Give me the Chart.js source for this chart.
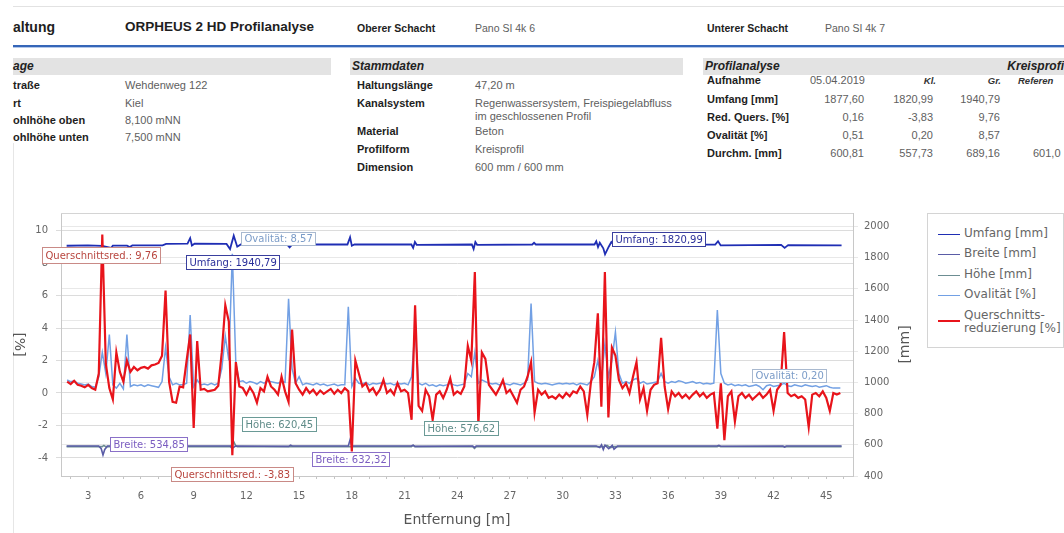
<!DOCTYPE html>
<html><head><meta charset="utf-8">
<script src="https://cdn.jsdelivr.net/npm/chart.js@4.4.1/dist/chart.umd.min.js"></script>
<style>
html,body{margin:0;padding:0;background:#fff;}
body{width:1064px;height:533px;position:relative;overflow:hidden;font-family:"Liberation Sans",Arial,sans-serif;}
.a{position:absolute;white-space:nowrap;line-height:14px;}
.b{font-weight:bold;color:#1e1e1e;font-size:11px;}
.v{color:#5e5e5e;font-size:11px;}
.h{font-weight:bold;font-style:italic;color:#333;font-size:9.5px;}
.bar{position:absolute;top:58px;height:17px;background:#e3e3e3;}
.bt{position:absolute;white-space:nowrap;font-weight:bold;font-style:italic;font-size:12px;color:#222;top:59px;line-height:15px;}
#legend{position:absolute;left:927px;top:213px;width:135px;height:133px;border:1px solid #d4d4d4;background:#fff;font-family:"DejaVu Sans",sans-serif;font-size:12px;color:#666;}
.li{position:absolute;left:10px;width:22px;}
.lt{position:absolute;left:36px;white-space:nowrap;line-height:13px;}
</style></head><body>
<div class="a" style="left:13px;top:6px;width:1051px;height:1px;background:#e2e2e2"></div>
<div class="a b" style="left:13px;top:19px;font-size:14px;line-height:16px">altung</div>
<div class="a b" style="left:125px;top:19px;font-size:13.5px;line-height:16px">ORPHEUS 2 HD Profilanalyse</div>
<div class="a b" style="left:357px;top:21px;font-size:10.5px">Oberer Schacht</div>
<div class="a v" style="left:475px;top:21px;font-size:10.5px">Pano SI 4k 6</div>
<div class="a b" style="left:707px;top:21px;font-size:10.5px">Unterer Schacht</div>
<div class="a v" style="left:825px;top:21px;font-size:10.5px">Pano SI 4k 7</div>
<div class="a" style="left:13px;top:45px;width:1051px;height:2px;background:#3566b8"></div>
<div class="a" style="left:13px;top:47px;width:1051px;height:1px;background:#b4c8ea"></div>

<div class="bar" style="left:13px;width:318px"></div>
<div class="bar" style="left:350px;width:333px"></div>
<div class="bar" style="left:703px;width:361px"></div>
<div class="bt" style="left:13px">age</div>
<div class="bt" style="left:352px">Stammdaten</div>
<div class="bt" style="left:705px">Profilanalyse</div>
<div class="bt" style="right:0px">Kreisprofi</div>

<div class="a b" style="left:13px;top:78px">traße</div>
<div class="a b" style="left:13px;top:96px">rt</div>
<div class="a b" style="left:13px;top:113px">ohlhöhe oben</div>
<div class="a b" style="left:13px;top:130px">ohlhöhe unten</div>
<div class="a v" style="left:125px;top:78px">Wehdenweg 122</div>
<div class="a v" style="left:125px;top:96px">Kiel</div>
<div class="a v" style="left:125px;top:113px">8,100 mNN</div>
<div class="a v" style="left:125px;top:130px">7,500 mNN</div>

<div class="a b" style="left:357px;top:78px">Haltungslänge</div>
<div class="a b" style="left:357px;top:96px">Kanalsystem</div>
<div class="a b" style="left:357px;top:124px">Material</div>
<div class="a b" style="left:357px;top:142px">Profilform</div>
<div class="a b" style="left:357px;top:160px">Dimension</div>
<div class="a v" style="left:475px;top:78px">47,20 m</div>
<div class="a v" style="left:475px;top:96px">Regenwassersystem, Freispiegelabfluss</div>
<div class="a v" style="left:475px;top:109px">im geschlossenen Profil</div>
<div class="a v" style="left:475px;top:124px">Beton</div>
<div class="a v" style="left:475px;top:142px">Kreisprofil</div>
<div class="a v" style="left:475px;top:160px">600 mm / 600 mm</div>

<div class="a b" style="left:707px;top:73px">Aufnahme</div>
<div class="a b" style="left:707px;top:92px">Umfang [mm]</div>
<div class="a b" style="left:707px;top:110px">Red. Quers. [%]</div>
<div class="a b" style="left:707px;top:128px">Ovalität [%]</div>
<div class="a b" style="left:707px;top:146px">Durchm. [mm]</div>
<div class="a v" style="right:199px;top:73px">05.04.2019</div>
<div class="a h" style="right:128px;top:74px">Kl.</div>
<div class="a h" style="right:63px;top:74px">Gr.</div>
<div class="a h" style="left:1018px;top:74px">Referen</div>
<div class="a v" style="right:200px;top:92px">1877,60</div>
<div class="a v" style="right:131px;top:92px">1820,99</div>
<div class="a v" style="right:64px;top:92px">1940,79</div>
<div class="a v" style="right:200px;top:110px">0,16</div>
<div class="a v" style="right:131px;top:110px">-3,83</div>
<div class="a v" style="right:64px;top:110px">9,76</div>
<div class="a v" style="right:200px;top:128px">0,51</div>
<div class="a v" style="right:131px;top:128px">0,20</div>
<div class="a v" style="right:64px;top:128px">8,57</div>
<div class="a v" style="right:200px;top:146px">600,81</div>
<div class="a v" style="right:131px;top:146px">557,73</div>
<div class="a v" style="right:64px;top:146px">689,16</div>
<div class="a v" style="left:1033px;top:146px">601,0</div>

<div class="a" style="left:13px;top:143px;width:1px;height:390px;background:#e6e6e6"></div>
<canvas id="c" width="920" height="338" style="position:absolute;left:0;top:195px"></canvas>
<div id="legend"></div>
<script>
const distances = [
1.8,2.0,2.2,2.4,2.6,2.8,3.0,3.2,3.4,3.6,
3.8,4.0,4.2,4.4,4.6,4.8,5.0,5.2,5.4,5.6,
5.8,6.0,6.2,6.4,6.6,6.8,7.0,7.2,7.4,7.6,
7.8,8.0,8.2,8.4,8.6,8.8,9.0,9.2,9.4,9.6,
9.8,10.0,10.2,10.4,10.6,10.8,11.0,11.2,11.4,11.6,
11.8,12.0,12.2,12.4,12.6,12.8,13.0,13.2,13.4,13.6,
13.8,14.0,14.2,14.4,14.6,14.8,15.0,15.2,15.4,15.6,
15.8,16.0,16.2,16.4,16.6,16.8,17.0,17.2,17.4,17.6,
17.8,18.0,18.2,18.4,18.6,18.8,19.0,19.2,19.4,19.6,
19.8,20.0,20.2,20.4,20.6,20.8,21.0,21.2,21.4,21.6,
21.8,22.0,22.2,22.4,22.6,22.8,23.0,23.2,23.4,23.6,
23.8,24.0,24.2,24.4,24.6,24.8,25.0,25.2,25.4,25.6,
25.8,26.0,26.2,26.4,26.6,26.8,27.0,27.2,27.4,27.6,
27.8,28.0,28.2,28.4,28.6,28.8,29.0,29.2,29.4,29.6,
29.8,30.0,30.2,30.4,30.6,30.8,31.0,31.2,31.4,31.6,
31.8,32.0,32.2,32.4,32.6,32.8,33.0,33.2,33.4,33.6,
33.8,34.0,34.2,34.4,34.6,34.8,35.0,35.2,35.4,35.6,
35.8,36.0,36.2,36.4,36.6,36.8,37.0,37.2,37.4,37.6,
37.8,38.0,38.2,38.4,38.6,38.8,39.0,39.2,39.4,39.6,
39.8,40.0,40.2,40.4,40.6,40.8,41.0,41.2,41.4,41.6,
41.8,42.0,42.2,42.4,42.6,42.8,43.0,43.2,43.4,43.6,
43.8,44.0,44.2,44.4,44.6,44.8,45.0,45.2,45.4,45.6,45.8];

const querschnitt = [
0.7,0.55,0.75,0.5,0.45,0.35,0.5,0.3,0.2,1.2,
9.76,1.8,0.3,-0.4,2.5,1.3,0.7,2.0,1.3,1.6,
1.4,1.55,1.6,1.5,1.7,1.75,1.85,2.3,6.3,0.7,
-0.55,-0.6,0.4,0.35,2.0,3.6,-2.15,3.2,0.2,0.25,
0.1,0.15,0.2,0.45,2.5,5.4,4.4,-3.83,1.9,0.4,
0.3,-0.1,0.35,0.0,-0.6,0.3,0.1,1.0,0.4,0.2,
-0.1,1.0,0.1,-0.55,3.9,0.6,0.2,-0.1,0.3,0.0,
0.2,-0.1,0.15,-0.05,0.1,0.25,-0.05,0.2,0.0,0.3,
0.1,-3.6,2.0,1.2,0.4,0.6,0.1,0.3,-0.1,0.2,
0.8,0.0,0.2,-0.1,0.6,0.1,0.2,0.0,-1.65,5.4,
-0.8,-1.1,0.2,-0.2,-1.65,-0.1,0.1,-0.3,0.2,0.9,
-0.1,0.1,-0.05,0.4,2.9,2.0,7.45,-2.0,2.5,2.1,
0.5,0.2,-0.1,0.3,0.8,0.0,0.2,-0.2,-0.6,0.2,
0.4,1.0,1.9,-1.2,0.2,-0.1,0.1,-0.3,-0.2,-0.35,
-0.1,-0.3,0.0,-0.2,0.1,0.0,0.4,0.1,-1.35,0.6,
1.9,4.9,-0.85,7.45,-1.5,2.8,2.3,0.8,0.3,0.6,
0.0,1.0,1.9,-0.4,0.3,-1.1,0.2,0.5,0.6,3.4,
0.4,-1.0,0.1,-0.2,0.0,-0.3,-0.1,-0.35,-0.1,0.1,
-0.2,0.0,-0.3,-0.1,0.0,-2.2,0.6,-2.9,-0.2,0.1,
-1.75,-0.2,0.0,-0.3,-0.1,-0.4,-0.2,0.0,-0.3,-0.1,
0.2,-1.1,0.2,0.5,3.75,0.0,-0.2,-0.1,-0.3,-0.2,
-0.4,-2.1,-0.1,0.0,-0.2,0.1,-0.3,-1.1,0.0,-0.1,0.0];

const ovalitaet = [
0.8,0.7,0.75,0.6,0.55,0.5,0.55,0.4,0.35,1.0,
2.5,1.2,3.6,0.5,0.3,0.6,0.25,3.6,0.4,0.5,
0.45,0.5,0.4,0.5,0.45,0.4,0.35,0.7,2.8,1.0,
0.5,0.6,0.5,0.5,0.6,4.8,0.4,0.8,0.5,0.55,
0.5,0.6,0.5,0.6,1.5,3.5,2.0,8.57,1.8,0.7,
0.75,0.6,0.7,0.65,0.55,0.7,0.6,0.75,0.7,0.65,
0.6,0.7,0.65,5.8,1.5,0.6,1.0,0.5,0.6,0.55,
0.5,0.6,0.5,0.55,0.45,0.5,0.55,0.45,0.5,0.5,
5.3,0.4,0.9,0.6,0.55,0.65,0.5,0.6,0.55,0.6,
0.65,0.55,0.6,0.5,0.6,0.55,0.6,0.5,1.0,4.0,
0.6,0.5,0.6,0.45,0.5,0.4,0.5,0.45,0.5,0.6,
0.5,0.45,0.5,0.55,1.2,1.0,2.5,0.6,0.8,0.7,
0.6,0.55,0.6,0.5,0.6,0.55,0.5,0.6,0.55,0.5,
0.6,0.8,5.5,0.7,0.6,0.55,0.6,0.55,0.5,0.55,
0.6,0.55,0.6,0.55,0.6,0.5,0.6,0.55,0.5,0.7,
1.0,2.0,0.8,3.0,1.0,2.0,3.75,1.2,0.6,0.7,
0.6,0.8,0.9,0.6,0.7,0.55,0.6,0.65,0.7,1.2,
0.7,0.6,0.7,0.65,0.75,0.7,0.6,0.65,0.7,0.6,
0.65,0.55,0.6,0.55,0.6,5.1,1.2,0.6,0.5,0.55,
0.45,0.5,0.45,0.5,0.4,0.45,0.5,0.4,0.2,0.45,
0.5,0.4,0.45,0.5,0.6,0.45,0.4,0.5,0.45,0.4,
0.5,0.45,0.4,0.45,0.35,0.4,0.45,0.35,0.3,0.3,0.3];

const umfangDist = [1.77,2.98,3.79,4.30,4.40,5.21,5.36,5.51,7.23,7.43,8.65,8.80,8.90,9.05,10.87,11.07,11.28,11.48,11.68,14.31,14.46,14.61,17.75,17.90,18.00,18.15,21.39,21.49,21.59,21.69,24.83,24.93,25.03,25.13,28.27,28.37,28.47,31.81,31.91,32.01,32.11,32.31,32.41,32.62,32.77,32.92,38.68,38.84,38.99,42.43,42.63,42.83,45.87];
const umfang = [1876,1878,1875,1862,1877,1877,1868,1878,1879,1888,1890,1925,1878,1889,1888,1855,1940.79,1870,1884,1885,1865,1884,1884,1930,1876,1884,1884,1862,1900,1882,1884,1855,1900,1882,1884,1895,1884,1884,1905,1868,1895,1860,1820.99,1870,1900,1883,1883,1905,1878,1882,1862,1880,1878];

const breiteDist = [1.77,3.59,3.74,3.84,3.94,4.10,7.43,7.53,7.63,11.07,11.17,11.28,11.38,14.41,14.51,14.61,17.80,17.90,18.00,21.39,21.49,21.59,24.88,24.98,25.08,31.91,32.11,32.21,32.31,32.41,32.62,32.82,32.92,33.12,38.79,38.89,38.99,42.53,42.63,42.73,45.87];
const breite = [592,592,575,534.85,570,592,592,584,592,592,578,584,592,590,598,592,592,632.32,592,592,598,590,592,583,592,592,582,600,570,598,575,596,572,592,592,597,591,592,586,592,592];

const hoeheDist = [1.77,3.79,3.89,3.99,11.07,11.17,11.28,11.38,11.48,21.39,21.49,21.59,24.88,24.98,25.08,32.31,32.52,32.72,32.92,38.79,38.89,38.99,45.87];
const hoehe = [588,588,596,588,588,600,620.45,596,588,588,596,588,588,576.62,588,588,597,582,588,588,593,588,588];

const xTicks = [3,6,9,12,15,18,21,24,27,30,33,36,39,42,45];
const xMinorTicks = [2,3,4,5,6,7,8,9,10,11,12,13,14,15,16,17,18,19,20,21,22,23,24,25,26,27,28,29,30,31,32,33,34,35,36,37,38,39,40,41,42,43,44,45,46];
const pctTicks = [-4,-2,0,2,4,6,8,10];
const mmTicks = [400,600,800,1000,1200,1400,1600,1800,2000];

Chart.defaults.font.family = '"DejaVu Sans", sans-serif';

const toXY = (xs, ys) => xs.map((x, i) => ({x: x, y: ys[i]}));

const series = [
  {key:'umfang', label:['Umfang [mm]'], xs:umfangDist, ys:umfang, axis:'y2', color:'#1f2eb4', width:1.8, order:2, lw:1},
  {key:'breite', label:['Breite [mm]'], xs:breiteDist, ys:breite, axis:'y2', color:'#5a5ca6', width:1.6, order:3, lw:1},
  {key:'hoehe', label:['Höhe [mm]'], xs:hoeheDist, ys:hoehe, axis:'y2', color:'#6c8d92', width:1.6, order:4, lw:1},
  {key:'oval', label:['Ovalität [%]'], xs:distances, ys:ovalitaet, axis:'y', color:'#72a0e4', width:1.5, order:1, lw:1},
  {key:'red', label:['Querschnitts-','reduzierung [%]'], xs:distances, ys:querschnitt, axis:'y', color:'#e8141b', width:2.2, order:0, lw:2}
];

const notes = [
  {s:'red', f:'max', pre:'Querschnittsred.: ', anchor:'center', dx:-1, dy:13, h:17, tc:'#b8453e', bc:'#c98a86'},
  {s:'red', f:'min', pre:'Querschnittsred.: ', anchor:'center', dx:0, dy:12, h:15, tc:'#b8453e', bc:'#c98a86'},
  {s:'umfang', f:'max', pre:'Umfang: ', anchor:'center', dx:-1, dy:19, h:15, tc:'#2a2f9a', bc:'#3a3f9e'},
  {s:'umfang', f:'min', pre:'Umfang: ', anchor:'left', dx:7, dy:-22, h:15, tc:'#2a2f9a', bc:'#3a3f9e'},
  {s:'oval', f:'max', pre:'Ovalität: ', anchor:'left', dx:9, dy:-22, h:14, tc:'#7b9cc8', bc:'#a9b9cf'},
  {s:'oval', f:'min', pre:'Ovalität: ', anchor:'left', dx:-11, dy:-21, h:14, tc:'#7b9cc8', bc:'#a9b9cf'},
  {s:'breite', f:'min', pre:'Breite: ', anchor:'left', dx:7, dy:-18, h:15, tc:'#7a5cc0', bc:'#8a70c8'},
  {s:'breite', f:'max', pre:'Breite: ', anchor:'center', dx:1, dy:12, h:15, tc:'#7a5cc0', bc:'#8a70c8'},
  {s:'hoehe', f:'max', pre:'Höhe: ', anchor:'left', dx:8, dy:-25, h:15, tc:'#5f8b88', bc:'#6a9a96'},
  {s:'hoehe', f:'min', pre:'Höhe: ', anchor:'center', dx:-13, dy:-27, h:15, tc:'#5f8b88', bc:'#6a9a96'}
];

const extras = {
  id: 'extras',
  afterDraw(chart) {
    const {ctx, chartArea: a, scales} = chart;
    ctx.save();
    ctx.strokeStyle = '#d4d4d4'; ctx.lineWidth = 1;
    ctx.beginPath(); ctx.moveTo(a.left, a.top + 0.5); ctx.lineTo(a.right, a.top + 0.5); ctx.stroke();
    const cy = (a.top + a.bottom) / 2;
    ctx.fillStyle = '#555'; ctx.font = '14px "DejaVu Sans"';
    ctx.textAlign = 'center'; ctx.textBaseline = 'middle';
    ctx.save(); ctx.translate(19, cy); ctx.rotate(Math.PI / 2); ctx.fillText('[%]', 0, 0); ctx.restore();
    ctx.save(); ctx.translate(905, cy); ctx.rotate(-Math.PI / 2); ctx.fillText('[mm]', 0, 0); ctx.restore();
    ctx.font = '10px "DejaVu Sans"';
    ctx.textAlign = 'left';
    notes.forEach(n => {
      const s = series.find(q => q.key === n.s);
      let idx = 0;
      s.ys.forEach((v, i) => { if ((n.f === 'max' && v > s.ys[idx]) || (n.f === 'min' && v < s.ys[idx])) idx = i; });
      const val = s.ys[idx];
      const px = scales.x.getPixelForValue(s.xs[idx]);
      const py = scales[s.axis].getPixelForValue(val);
      const text = n.pre + val.toFixed(2).replace('.', ',');
      const w = Math.round(ctx.measureText(text).width) + 7, h = n.h;
      const bx = Math.round(n.anchor === 'center' ? px - w / 2 + n.dx : px + n.dx);
      const by = Math.round(py + n.dy);
      ctx.fillStyle = '#fff'; ctx.fillRect(bx, by, w, h);
      ctx.strokeStyle = n.bc; ctx.strokeRect(bx + 0.5, by + 0.5, w - 1, h - 1);
      ctx.fillStyle = n.tc; ctx.fillText(text, bx + 3.5, by + h / 2 + 0.5);
    });
    ctx.restore();
  }
};

const tickCb = v => String(v);

new Chart(document.getElementById('c'), {
  type: 'line',
  data: {
    datasets: series.map(s => ({
      label: s.label.join(' '), data: toXY(s.xs, s.ys), yAxisID: s.axis,
      borderColor: s.color, backgroundColor: s.color, borderWidth: s.width,
      pointRadius: 0, tension: 0, fill: false, order: s.order
    }))
  },
  options: {
    responsive: false, animation: false, devicePixelRatio: 1,
    layout: {padding: {top: 18, left: 0, right: 0, bottom: 0}},
    plugins: {legend: {display: false}, tooltip: {enabled: false}},
    scales: {
      x: {
        type: 'linear', min: 1.45, max: 46.52,
        afterBuildTicks: sc => { sc.ticks = xMinorTicks.map(v => ({value: v})); },
        afterFit: sc => { sc.height = 57; },
        ticks: {color: '#666', font: {size: 10}, padding: 11, maxRotation: 0, autoSkip: false,
                callback: v => xTicks.includes(v) ? String(v) : ''},
        grid: {drawOnChartArea: false, tickLength: 3, color: '#c4c4c4'},
        border: {color: '#c8c8c8'},
        title: {display: true, text: 'Entfernung [m]', color: '#555', font: {size: 14}, padding: {top: 0, bottom: 4}}
      },
      y: {
        position: 'left', min: -5.11, max: 11.08,
        afterBuildTicks: sc => { sc.ticks = pctTicks.map(v => ({value: v})); },
        afterFit: sc => { sc.width = 61; },
        ticks: {color: '#666', font: {size: 10}, padding: 8, callback: tickCb},
        grid: {color: '#dcdcdc', tickLength: 5},
        border: {color: '#c8c8c8'}
      },
      y2: {
        position: 'right', min: 400, max: 2086,
        afterBuildTicks: sc => { sc.ticks = mmTicks.map(v => ({value: v})); },
        afterFit: sc => { sc.width = 67; },
        ticks: {color: '#666', font: {size: 10}, padding: 6, callback: tickCb},
        grid: {color: '#e8e8e8', tickLength: 5},
        border: {color: '#c8c8c8'}
      }
    }
  },
  plugins: [extras]
});

const leg = document.getElementById('legend');
const rowTops = [13, 33, 54, 74, 95];
series.forEach((s, i) => {
  const top = rowTops[i];
  const line = document.createElement('div');
  line.className = 'li';
  const lineY = top + (s.label.length > 1 ? 12 : 7);
  line.style.top = (lineY - Math.floor(s.lw / 2)) + 'px';
  line.style.height = s.lw + 'px';
  line.style.background = s.color;
  leg.appendChild(line);
  const t = document.createElement('div');
  t.className = 'lt';
  t.style.top = top + 'px';
  t.innerHTML = s.label.join('<br>');
  leg.appendChild(t);
});
</script>
</body></html>
